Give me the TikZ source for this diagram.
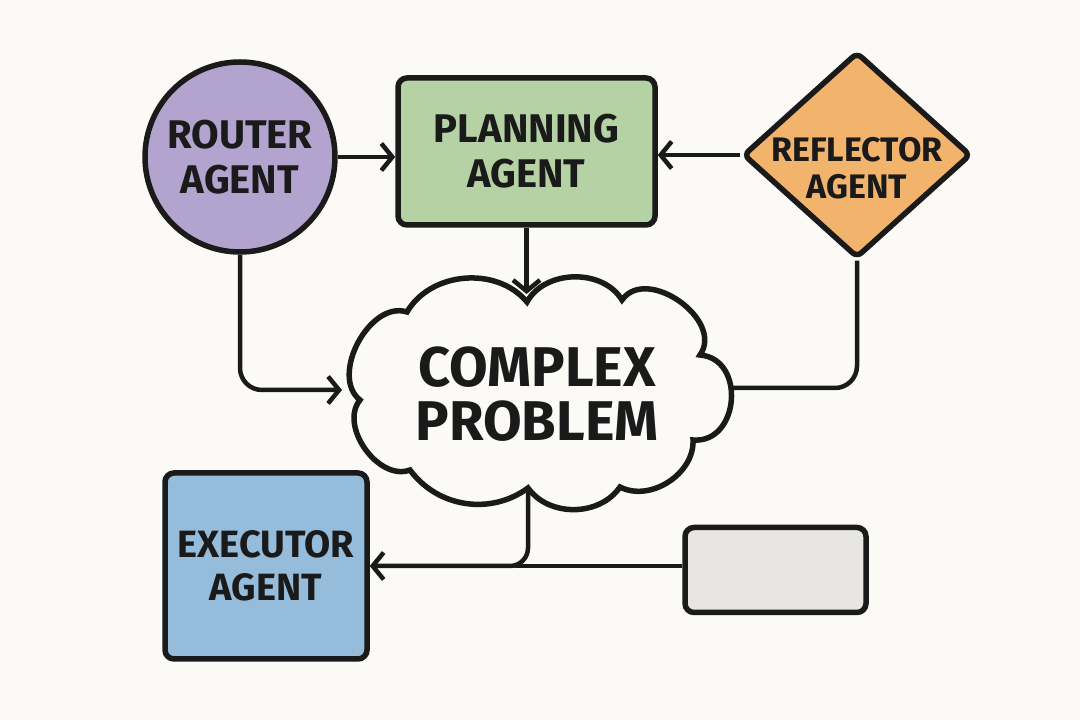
\documentclass[tikz,border=0pt]{standalone}
\usepackage{fontspec}
\setmainfont{Fira Sans}
\usetikzlibrary{arrows.meta,shapes.geometric}
\definecolor{bg}{HTML}{FBFAF6}
\definecolor{ink}{HTML}{1A1A1A}
\definecolor{purp}{HTML}{B2A3CF}
\definecolor{leaf}{HTML}{B5D2A4}
\definecolor{amber}{HTML}{F2B36C}
\definecolor{sky}{HTML}{95BCDA}
\definecolor{pale}{HTML}{E7E6E3}
\begin{document}
\begin{tikzpicture}[x=1pt,y=1pt,
  outline/.style={draw=ink, line width=5.5pt},
  conn/.style={draw=ink, line width=4.5pt},
  arr/.style={conn, -{Straight Barb[length=11pt,width=27pt]}},
  lbl/.style={font=\bfseries\fontsize{40}{45}\selectfont, align=center, text=ink, inner sep=1pt},
]
\fill[bg] (0,0) rectangle (1080,720);
\useasboundingbox (0,0) rectangle (1080,720);

% nodes
\node[outline, lbl, circle, fill=purp, minimum size=190] (router) at (240,563) {ROUTER\\AGENT};
\node[outline, lbl, rectangle, rounded corners=9, fill=leaf, minimum width=257, minimum height=147] (plan) at (526.5,568.5) {PLANNING\\AGENT};
\node[outline, diamond, rounded corners=6, fill=amber, minimum width=228, minimum height=206, inner sep=0] (refl) at (857,565) {};
\node[lbl, font=\bfseries\fontsize{34}{37}\selectfont] (refltxt) at (857,552) {REFLECTOR\\AGENT};
\node[outline, lbl, rectangle, rounded corners=9, fill=sky, minimum width=202, minimum height=186, font=\bfseries\fontsize{38}{43}\selectfont] (exec) at (266,154) {EXECUTOR\\AGENT};
\node[outline, rectangle, rounded corners=9, fill=pale, minimum width=181, minimum height=85] (gray) at (775.5,150) {};

% cloud
\coordinate (c9) at (360,320);
\coordinate (c1) at (407,408);
\coordinate (c2) at (527,418);
\coordinate (c3) at (622,420);
\coordinate (c4) at (700,365);
\coordinate (c5) at (693,280);
\coordinate (c6) at (620,233);
\coordinate (c7) at (528,232);
\coordinate (c8) at (410,250);
\draw[outline, fill=bg] (c9) to[bend left=80] (c1) to[bend left=55] (c2) to[bend left=60] (c3)
  to[bend left=90, looseness=1.15] (c4) to[bend left=90, looseness=1.4] (c5)
  to[bend left=60] (c6) to[bend left=55] (c7) to[bend left=45] (c8) to[bend left=75] cycle;
\node[lbl, font=\bfseries\fontsize{56}{54}\selectfont] (cloudtxt) at (537,326) {COMPLEX\\PROBLEM};

\coordinate (cT) at (526.5,426);
\coordinate (cL) at (342,330);
\coordinate (cR) at (731,332);
\coordinate (jn) at (515,154);

% connectors
\draw[arr] (router.east) -- (plan.west |- router.east);
\draw[arr] (refl.west) -- (plan.east |- refl.west);
\draw[arr] (plan.south) -- (cT);
\draw[arr, rounded corners=22] (router.south) |- (cL);
\draw[conn, rounded corners=22] (refl.south) |- (cR);
\draw[arr, rounded corners=18] (c7) |- (exec.east);
\draw[conn] (gray.west |- jn) -- (jn);
\end{tikzpicture}
\end{document}
